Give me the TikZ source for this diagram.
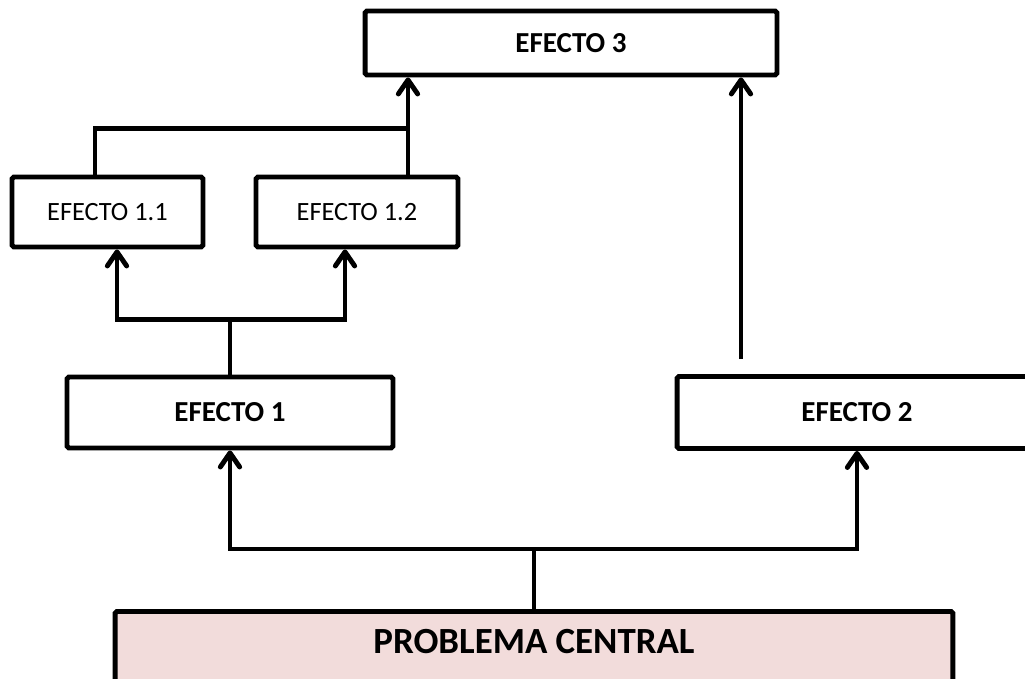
\documentclass[tikz,border=0pt]{standalone}
\usepackage{fontspec}
\setmainfont{Carlito}
\usetikzlibrary{arrows.meta}

\definecolor{linecolor}{RGB}{0,0,0}
\definecolor{problemcolor}{RGB}{242,220,219}

\begin{document}
\begin{tikzpicture}[x=0.02cm,y=-0.02cm,
    effect/.style={draw=linecolor, line width=2.8pt, rounded corners=1pt, fill=white,
        inner sep=0pt, font=\fontsize{15}{18}\selectfont},
    boldeffect/.style={effect, font=\fontsize{16.5}{20}\selectfont\bfseries},
    link/.style={draw=linecolor, line width=2.8pt},
    arrow/.style={link, -{Straight Barb[length=8pt,width=11pt,round]}}]
    % Frame of the page
    \clip (0,0) rectangle (1025,679);

    % Draw the effect boxes
    \node[boldeffect, minimum width=8.24cm, minimum height=1.28cm] (e3) at (571,43) {EFECTO 3};
    \node[effect, minimum width=3.82cm, minimum height=1.4cm] (e11) at (107.5,212) {EFECTO 1.1};
    \node[effect, minimum width=4.04cm, minimum height=1.4cm] (e12) at (357,212) {EFECTO 1.2};
    \node[boldeffect, minimum width=6.52cm, minimum height=1.42cm] (e1) at (230,412.5) {EFECTO 1};
    \node[boldeffect, minimum width=7.2cm, minimum height=1.44cm] (e2) at (857,412.5) {EFECTO 2};

    % Draw the central problem
    \node[effect, fill=problemcolor, font=\fontsize{21}{25}\selectfont\bfseries,
        minimum width=16.76cm, text height=24pt, text depth=34pt, anchor=north] (pc) at (534,609) {PROBLEMA CENTRAL};

    % Problem to effects 1 and 2
    \coordinate (pcj) at (534,549);
    \draw[link] (pc.north) -- (pcj);
    \draw[arrow] (pcj) -| (e1.south);
    \draw[arrow] (pcj) -| (e2.south);

    % Effect 1 to effects 1.1 and 1.2
    \path (e1.north) ++(0,-55) coordinate (e1j);
    \draw[link] (e1.north) -- (e1j);
    \draw[arrow] (e1j) -| ([xshift=0.19cm]e11.south);
    \draw[arrow] (e1j) -| ([xshift=-0.24cm]e12.south);

    % Effects 1.1 and 1.2 to effect 3
    \path ([xshift=1.02cm]e12.north) ++(0,-46) coordinate (e12j);
    \draw[link] ([xshift=-0.25cm]e11.north) |- (e12j);
    \draw[arrow] ([xshift=1.02cm]e12.north) -- (e12j |- e3.south);

    % Effect 2 to effect 3
    \coordinate (e2j) at (741,359);
    \draw[arrow] (e2j) -- (e2j |- e3.south);
\end{tikzpicture}
\end{document}
